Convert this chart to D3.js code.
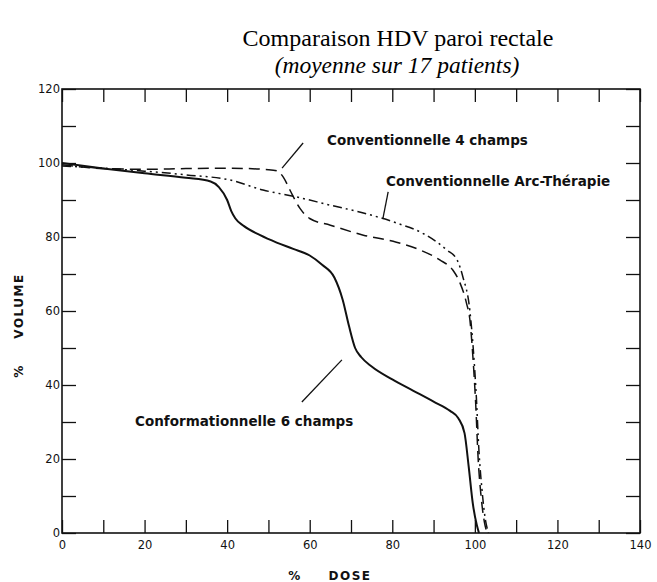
<!DOCTYPE html>
<html>
<head>
<meta charset="UTF-8">
<title>Comparaison HDV paroi rectale</title>
<script src="https://d3js.org/d3.v7.min.js"></script>
<style>
  body { margin: 0; background: #fff; }
  .tick text { font-family: "DejaVu Sans", sans-serif; font-size: 11.5px; fill: #111; }
  .tick line { stroke: #111; stroke-width: 1.3; }
  .ann { font-family: "DejaVu Sans", sans-serif; font-weight: bold; font-size: 13.5px; fill: #111; }
  .axt { font-family: "DejaVu Sans", sans-serif; font-weight: bold; font-size: 12px; letter-spacing: 1.5px; fill: #111; }
</style>
</head>
<body>
<svg id="chart"></svg>
<script>
// dose (%) / volume (%)
const dose6 = [0, 10, 20, 30, 36, 38, 40, 41, 42, 44, 48, 52, 56, 60, 63, 66, 68, 69.5, 71, 72.5, 75, 80, 85, 90, 94, 96, 97.5, 98.5, 99.5, 100.5, 101];
const vol6 = [100, 98.5, 97.2, 96, 95, 93.5, 90, 87, 85, 83, 80.5, 78.5, 76.8, 75, 72.5, 69, 63, 56, 50, 47.5, 45, 41.5, 38.5, 35.5, 33, 31, 27, 18, 8, 2, 0];

const dose4 = [0, 10, 20, 30, 40, 50, 52, 53.6, 55.2, 57.6, 60, 65, 73, 81, 86.7, 91.5, 94.7, 96.4, 98, 98.8, 99.5, 100.2, 100.8, 101.5, 102.3, 103];
const vol4 = [99.5, 98.5, 98.3, 98.5, 98.6, 98.2, 97.9, 96.2, 92.7, 87.8, 85, 83.2, 80.5, 78.6, 76.5, 73.8, 71, 67.6, 62, 57.6, 48, 35, 20, 10, 3, 0];

const doseArc = [0, 10, 20, 30, 40.7, 48.7, 56.9, 65, 73, 81, 87.4, 93.2, 95.7, 97.1, 98.8, 99.6, 100.3, 101, 101.7, 102.5, 103.3];
const volArc = [99.2, 98.6, 97.8, 96.8, 95.4, 92.7, 90.8, 88.6, 86.5, 83.8, 81, 76.5, 73.8, 69.2, 60, 50, 38, 22, 12, 4, 0];

const xTicks = [0, 10, 20, 30, 40, 50, 60, 70, 80, 90, 100, 110, 120, 130, 140];
const yTicks = [0, 10, 20, 30, 40, 50, 60, 70, 80, 90, 100, 110, 120];

// labels: [text, dose, volume], leaders: [d1, v1, d2, v2]
const labels = [
  ["Conventionnelle 4 champs", 64.2, 105],
  ["Conventionnelle Arc-Thérapie", 78.5, 93.8],
  ["Conformationnelle 6 champs", 17.7, 28.9]
];
const leaders = [
  [53.3, 98.6, 58.4, 105.4],
  [79, 92.2, 77.7, 84.8],
  [58.1, 35.4, 67.8, 46.8]
];

const W = 657, H = 582;
const margin = {top: 89, right: 17, bottom: 49, left: 62};

const svg = d3.select("#chart").attr("width", W).attr("height", H);
svg.append("rect").attr("width", W).attr("height", H).attr("fill", "#fff");

const x = d3.scaleLinear().domain([0, 140]).range([margin.left, W - margin.right]);
const y = d3.scaleLinear().domain([0, 120]).range([H - margin.bottom, margin.top]);

// title
svg.append("text")
  .attr("x", 398).attr("y", 46)
  .attr("text-anchor", "middle")
  .style("font-family", "'Liberation Serif', 'Times New Roman', serif")
  .style("font-size", "24px")
  .text("Comparaison HDV paroi rectale");
svg.append("text")
  .attr("x", 397).attr("y", 73)
  .attr("text-anchor", "middle")
  .style("font-family", "'Liberation Serif', 'Times New Roman', serif")
  .style("font-style", "italic")
  .style("font-size", "23.5px")
  .text("(moyenne sur 17 patients)");

// axes, ticks pointing inwards on all four sides
const fmt = (d) => d % 20 === 0 ? d : "";
const axBottom = svg.append("g").attr("transform", `translate(0,${y(0)})`)
  .call(d3.axisBottom(x).tickValues(xTicks).tickFormat(fmt).tickSizeInner(-13).tickSizeOuter(0).tickPadding(8));
const axTop = svg.append("g").attr("transform", `translate(0,${y(120)})`)
  .call(d3.axisTop(x).tickValues(xTicks).tickFormat("").tickSizeInner(-13).tickSizeOuter(0));
const axLeft = svg.append("g").attr("transform", `translate(${x(0)},0)`)
  .call(d3.axisLeft(y).tickValues(yTicks).tickFormat(fmt).tickSizeInner(-14).tickSizeOuter(0).tickPadding(2));
const axRight = svg.append("g").attr("transform", `translate(${x(140)},0)`)
  .call(d3.axisRight(y).tickValues(yTicks).tickFormat("").tickSizeInner(-14).tickSizeOuter(0));
[axBottom, axTop, axLeft, axRight].forEach((g) => g.select(".domain").remove());

// frame
svg.append("rect")
  .attr("x", x(0)).attr("y", y(120))
  .attr("width", x(140) - x(0)).attr("height", y(0) - y(120))
  .attr("fill", "none").attr("stroke", "#111").attr("stroke-width", 1.6);

// axis titles
svg.append("text").attr("x", 295).attr("y", 580).attr("text-anchor", "middle")
  .attr("class", "axt").text("%");
svg.append("text").attr("x", 350).attr("y", 580).attr("text-anchor", "middle")
  .attr("class", "axt").text("DOSE");
svg.append("text").attr("transform", "translate(23,371) rotate(-90)").attr("text-anchor", "middle")
  .attr("class", "axt").text("%");
svg.append("text").attr("transform", "translate(23,306) rotate(-90)").attr("text-anchor", "middle")
  .attr("class", "axt").text("VOLUME");

// curves
const line = d3.line().x((d) => x(d[0])).y((d) => y(d[1])).curve(d3.curveMonotoneX);
const series = [
  {d: dose6, v: vol6, dash: null, w: 2},
  {d: dose4, v: vol4, dash: "11,6", w: 1.5},
  {d: doseArc, v: volArc, dash: "9,4,2,4,2,4", w: 1.5}
];
series.forEach((s) => {
  svg.append("path")
    .datum(d3.zip(s.d, s.v))
    .attr("d", line)
    .attr("fill", "none")
    .attr("stroke", "#111")
    .attr("stroke-width", s.w)
    .attr("stroke-dasharray", s.dash);
});

// annotations
svg.selectAll(".leader").data(leaders).enter().append("line")
  .attr("class", "leader")
  .attr("x1", (d) => x(d[0])).attr("y1", (d) => y(d[1]))
  .attr("x2", (d) => x(d[2])).attr("y2", (d) => y(d[3]))
  .attr("stroke", "#111").attr("stroke-width", 1.3);
svg.selectAll(".lab").data(labels).enter().append("text")
  .attr("class", "ann lab")
  .attr("x", (d) => x(d[1])).attr("y", (d) => y(d[2]))
  .text((d) => d[0]);
</script>
</body>
</html>
